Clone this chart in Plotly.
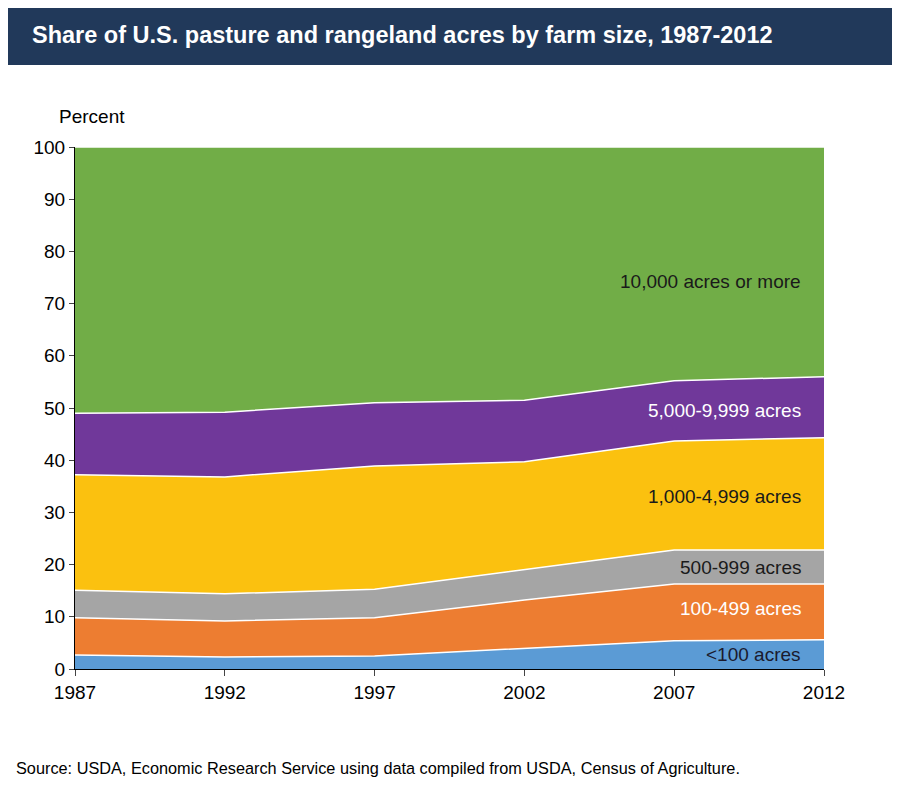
import plotly.graph_objects as go

years = [1987, 1992, 1997, 2002, 2007, 2012]
categories = ["<100 acres", "100-499 acres", "500-999 acres", "1,000-4,999 acres",
              "5,000-9,999 acres", "10,000 acres or more"]
under_100 = [2.7, 2.3, 2.5, 4.0, 5.4, 5.6]
acres_100_499 = [7.1, 6.9, 7.3, 9.2, 10.9, 10.7]
acres_500_999 = [5.3, 5.2, 5.5, 5.8, 6.5, 6.5]
acres_1000_4999 = [22.1, 22.4, 23.6, 20.7, 20.9, 21.5]
acres_5000_9999 = [11.8, 12.4, 12.1, 11.8, 11.5, 11.7]
acres_10000_plus = [51.0, 50.8, 49.0, 48.5, 44.8, 44.0]

series = [under_100, acres_100_499, acres_500_999, acres_1000_4999, acres_5000_9999, acres_10000_plus]
colors = ["#5b9bd5", "#ed7d31", "#a5a5a5", "#fbc10f", "#70389a", "#71ad47"]
label_y = [2.7, 11.5, 19.5, 33.1, 49.6, 74.3]
label_color = ["#1a1a2e", "white", "#1a1a1a", "#1a1a1a", "white", "#1a1a1a"]

fig = go.Figure()
for name, vals, c in zip(categories, series, colors):
    fig.add_trace(go.Scatter(x=years, y=vals, name=name, stackgroup="one", mode="lines",
                             line=dict(color="white", width=1.5), fillcolor=c))

for name, y, fc in zip(categories, label_y, label_color):
    fig.add_annotation(x=2011.3, y=y, text=name, showarrow=False, xanchor="right",
                       font=dict(size=19, color=fc))

# header band
fig.add_shape(type="rect", xref="paper", yref="paper", x0=-67/749, x1=833/749,
              y0=1 + 82/522, y1=1 + 139/522, fillcolor="#21395a", line_width=0, layer="below")
fig.add_annotation(xref="paper", yref="paper", x=-45/749, y=1 + 112/522, text="<b>Share of U.S. pasture and rangeland acres by farm size, 1987-2012</b>",
                   showarrow=False, xanchor="left", yanchor="middle", font=dict(size=23.5, color="white"))
fig.add_annotation(xref="paper", yref="paper", x=-18/749, y=1 + 30/522, text="Percent",
                   showarrow=False, xanchor="left", yanchor="middle", font=dict(size=19, color="black"))
fig.add_annotation(xref="paper", yref="paper", x=-61/749, y=-99/522,
                   text="Source: USDA, Economic Research Service using data compiled from USDA, Census of Agriculture.",
                   showarrow=False, xanchor="left", yanchor="middle", font=dict(size=16.3, color="black"))

fig.update_layout(
    width=900, height=810, plot_bgcolor="white", paper_bgcolor="white",
    margin=dict(l=67, r=84, t=139, b=149), showlegend=False,
    font=dict(family="Liberation Sans, Arial", color="black"),
    xaxis=dict(range=[1987, 2012], tickvals=years, showgrid=False, showline=True, linecolor="black",
               ticks="outside", ticklen=6, tickfont=dict(size=19)),
    yaxis=dict(range=[0, 100], dtick=10, showgrid=False, showline=True, linecolor="black",
               ticks="outside", ticklen=5, tickfont=dict(size=19)),
)

fig.write_html("out.html")
